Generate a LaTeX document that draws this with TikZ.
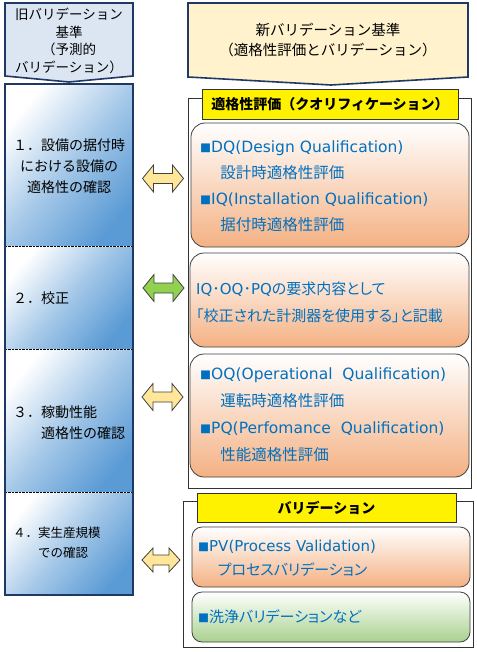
\documentclass[tikz,border=0pt]{standalone}
\usepackage{fontspec}
\setmainfont{Noto Sans CJK JP}
\newfontfamily\jpp[RawFeature=+palt]{Noto Sans CJK JP}
\newfontfamily\latn{DejaVu Sans}
\usetikzlibrary{positioning}
\definecolor{navy}{HTML}{1F3864}
\definecolor{hdblue}{HTML}{DCE6F2}
\definecolor{hdcream}{HTML}{FFF2CC}
\definecolor{colblue}{HTML}{5B9BD5}
\definecolor{qorange}{HTML}{F4B183}
\definecolor{vgreen}{HTML}{A9D18E}
\definecolor{txtblue}{HTML}{0070C0}
\definecolor{arrcream}{HTML}{FFE699}
\definecolor{arrgreen}{HTML}{92D050}
\newcommand{\qbul}{{\fontsize{11}{11}\selectfont ■}}

\begin{document}
\begin{tikzpicture}[x=1pt, y=-1pt,
  hdtext/.style={font=\fontsize{13.5}{17.7}\selectfont, align=center, inner sep=0},
  colsec/.style={top color=white, bottom color=colblue, middle color=colblue!55, shading angle=50,
    minimum width=128pt, inner sep=0},
  sectext/.style={font=\fontsize{14}{21}\selectfont, inner sep=0},
  frame/.style={draw=black!80, line width=0.7pt, fill=white},
  ylabel/.style={draw=black!80, fill=yellow, line width=0.8pt, inner sep=0,
    font=\bfseries\fontsize{14}{14}\selectfont},
  qbox/.style={draw=black!75, line width=0.8pt, rounded corners=14pt, top color=white, bottom color=qorange},
  qtext/.style={text=txtblue, align=left, inner sep=0, font=\jpp\fontsize{15.5}{26}\selectfont},
  dblarrow/.style={draw=black!75, line width=0.8pt, line join=miter}
]
\useasboundingbox (0,0) rectangle (476,652);

% headers
\draw[fill=hdblue, draw=navy, line width=1.6pt] (5,3) -- (133,3) -- (133,76) -- (69,82) -- (5,76) -- cycle;
\node[hdtext] (oldhd) at (69,41) {旧バリデーション\\基準\\（予測的\\バリデーション）};
\draw[fill=hdcream, draw=navy, line width=1.6pt] (188,3) -- (468,3) -- (468,77) -- (331,85) -- (188,77) -- cycle;
\node[hdtext, font=\fontsize{14.5}{20}\selectfont] (newhd) at (328,40) {新バリデーション基準\\（適格性評価とバリデーション）};

% left column
\node[colsec, minimum height=162pt] (sec1) at (69,165) {};
\node[colsec, minimum height=103pt] (sec2) at (69,297.5) {};
\node[colsec, minimum height=143pt] (sec3) at (69,420.5) {};
\node[colsec, minimum height=103pt] (sec4) at (69,543.5) {};
\foreach \s in {sec1,sec2,sec3} {
  \draw[white, line width=1.4pt] (\s.south west) -- (\s.south east);
  \draw[black, line width=1.4pt, dash pattern=on 0.7pt off 0.7pt] (\s.south west) -- (\s.south east);
}
\draw[navy, line width=2pt] (sec1.north west) rectangle (sec4.south east);

\node[sectext, align=center] (t1) at (69,166) {１．設備の据付時\\における設備の\\適格性の確認};
\node[sectext, anchor=west] (t2) at (13,298) {２．校正};
\node[sectext, align=left, anchor=west] (t3) at (13,422.5) {３．稼動性能\\\hspace*{2em}適格性の確認};
\node[sectext, align=left, anchor=west, font=\fontsize{12.5}{20}\selectfont] (t4) at (13,543) {４．実生産規模\\\hspace*{2em}での確認};

% right frames
\draw[frame] (188,98) rectangle (471,488);
\draw[frame] (183,501) rectangle (473,647);
\node[ylabel, minimum width=256pt, minimum height=30pt] (lab1) at (330,104) {適格性評価（クオリフィケーション）};
\node[ylabel, minimum width=259pt, minimum height=29pt] (lab2) at (326.5,507.5) {バリデーション};

\node[qbox, minimum width=278pt, minimum height=124pt] (dqiq) at (330,185) {};
\node[qtext, anchor=west] at (200,186) {\qbul{\latn DQ(Design Qualification)}\\\hspace*{1.3em}設計時適格性評価\\\qbul{\latn IQ(Installation Qualification)}\\\hspace*{1.3em}据付時適格性評価};
\node[qbox, minimum width=279pt, minimum height=94pt] (calib) at (329.5,300) {};
\node[qtext, anchor=west, font=\jpp\fontsize{15}{27}\selectfont] at (196,302.5) {{\latn IQ}･{\latn OQ}･{\latn PQ}の要求内容として\\「校正された計測器を使用する」と記載};
\node[qbox, minimum width=279pt, minimum height=123pt] (oqpq) at (329.5,415.5) {};
\node[qtext, anchor=west, font=\jpp\fontsize{15.5}{27}\selectfont] at (200,415) {\qbul{\latn OQ(Operational\ \ Qualification)}\\\hspace*{1.3em}運転時適格性評価\\\qbul{\latn PQ(Perfomance\ \ Qualification)}\\\hspace*{1.3em}性能適格性評価};
\node[qbox, minimum width=278pt, minimum height=60pt, rounded corners=10pt] (pv) at (331,557) {};
\node[qtext, anchor=west, font=\jpp\fontsize{15}{24}\selectfont] at (198,558) {\qbul{\latn PV(Process Validation)}\\\hspace*{1.3em}プロセスバリデーション};
\node[qbox, minimum width=278pt, minimum height=50pt, rounded corners=10pt, bottom color=vgreen] (clean) at (331,617) {};
\node[qtext, anchor=west, font=\jpp\fontsize{15}{24}\selectfont] at (198,617) {\qbul 洗浄バリデーションなど};

% arrows (centre x, centre y, fill, half length, half height)
\foreach \cx/\cy/\col/\hl/\hh in {163/178.5/arrcream/20.5/13.5, 163.5/288/arrgreen/20.5/13.5,
    162.5/397/arrcream/20.5/13.5, 161/560/arrcream/19/12} {
  \draw[dblarrow, fill=\col, shift={(\cx,\cy)}] (-\hl,0) -- (-\hl+11,-\hh) -- (-\hl+11,-5) -- (\hl-11,-5)
    -- (\hl-11,-\hh) -- (\hl,0) -- (\hl-11,\hh) -- (\hl-11,5) -- (-\hl+11,5) -- (-\hl+11,\hh) -- cycle;
}
\end{tikzpicture}
\end{document}
